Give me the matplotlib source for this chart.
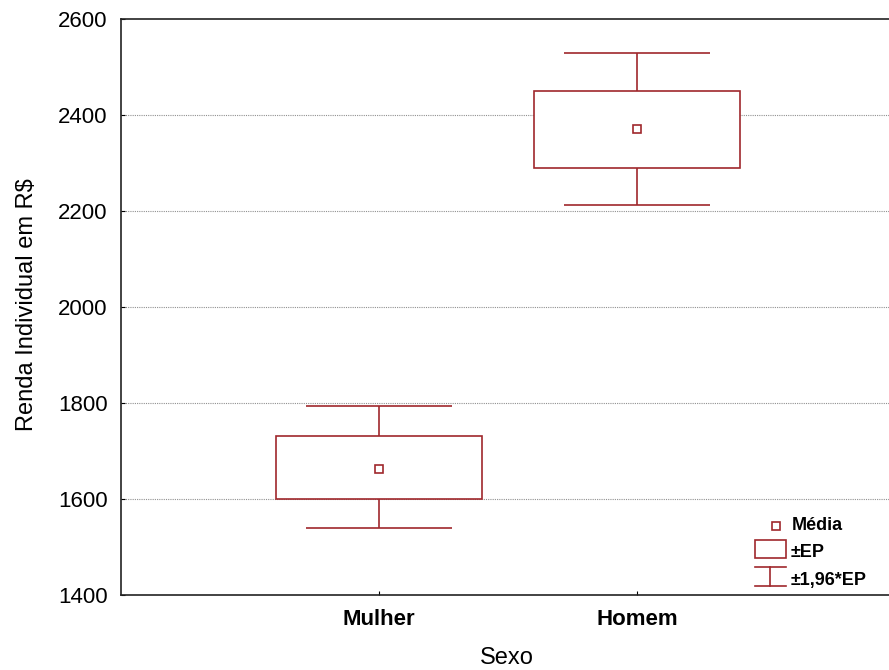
import matplotlib
matplotlib.use('Agg')
import matplotlib.pyplot as plt
from matplotlib.patches import Rectangle

plt.rcParams['font.family'] = ['Liberation Sans', 'DejaVu Sans']

# dados
sexo = ['Mulher', 'Homem']
media = [1662, 2370]
ep_inf = [1601, 2290]
ep_sup = [1731, 2450]
ic_inf = [1540, 2212]
ic_sup = [1794, 2529]

cor = '#a0282c'
x = list(range(len(sexo)))

fig = plt.figure(figsize=(8.89, 6.70), dpi=100)
ax = fig.add_axes([0.1361, 0.1119, 0.8706, 0.8597])

# grade pontilhada
for v in [1600, 1800, 2000, 2200, 2400]:
    ax.axhline(v, color='#909090', linestyle=(0, (1, 1)), linewidth=0.8, zorder=0)

# whiskers (±1,96*EP)
ax.vlines(x, ic_inf, ep_inf, color=cor, linewidth=1.2, zorder=2)
ax.vlines(x, ep_sup, ic_sup, color=cor, linewidth=1.2, zorder=2)
ax.hlines(ic_inf, [i - 0.283 for i in x], [i + 0.283 for i in x], color=cor, linewidth=1.2, zorder=2)
ax.hlines(ic_sup, [i - 0.283 for i in x], [i + 0.283 for i in x], color=cor, linewidth=1.2, zorder=2)

# caixas (±EP)
alturas = [s - i for s, i in zip(ep_sup, ep_inf)]
ax.bar(x, alturas, bottom=ep_inf, width=0.80, facecolor='white', edgecolor=cor,
       linewidth=1.2, zorder=3)

# média
ax.plot(x, media, linestyle='none', marker='s', markersize=5.5, markerfacecolor='white',
        markeredgecolor=cor, markeredgewidth=1.2, zorder=4)

ax.set_xlim(-1, 2)
ax.set_ylim(1400, 2600)
ax.set_xticks(x)
ax.set_xticklabels(sexo, fontsize=16, fontweight='bold')
ax.set_yticks([1400, 1600, 1800, 2000, 2200, 2400, 2600])
ax.tick_params(axis='both', direction='in', length=3, labelsize=16, top=False, right=False)
ax.tick_params(axis='x', pad=10)
ax.tick_params(axis='y', pad=9.5)
ax.set_xlabel('Sexo', fontsize=17, va='baseline')
ax.set_ylabel('Renda Individual em R$', fontsize=17, va='baseline')
ax.xaxis.set_label_coords((507 - 121) / 774, -0.1198)
ax.yaxis.set_label_coords(-0.1137, 0.504)
for s in ax.spines.values():
    s.set_linewidth(1.2)
    s.set_color('#222222')

# legenda desenhada à mão
t = ax.transAxes
ax.plot([0.846], [0.1207], transform=t, linestyle='none', marker='s', markersize=5.5,
        markerfacecolor='white', markeredgecolor=cor, markeredgewidth=1.2, clip_on=False)
ax.text(0.867, 0.1128, 'Média', transform=t, fontsize=13, fontweight='bold', va='baseline')
ax.add_patch(Rectangle((0.8195, 0.0642), 0.040, 0.0313, transform=t, facecolor='white',
                       edgecolor=cor, linewidth=1.2, clip_on=False))
ax.text(0.8656, 0.066, '±EP', transform=t, fontsize=13, fontweight='bold', va='baseline')
ax.plot([0.8195, 0.8595], [0.0486, 0.0486], transform=t, color=cor, linewidth=1.2)
ax.plot([0.8195, 0.8595], [0.0156, 0.0156], transform=t, color=cor, linewidth=1.2)
ax.plot([0.8385, 0.8385], [0.0156, 0.0486], transform=t, color=cor, linewidth=1.2)
ax.text(0.8656, 0.0174, '±1,96*EP', transform=t, fontsize=13, fontweight='bold', va='baseline')

fig.savefig('out.png', dpi=100, facecolor='white')
